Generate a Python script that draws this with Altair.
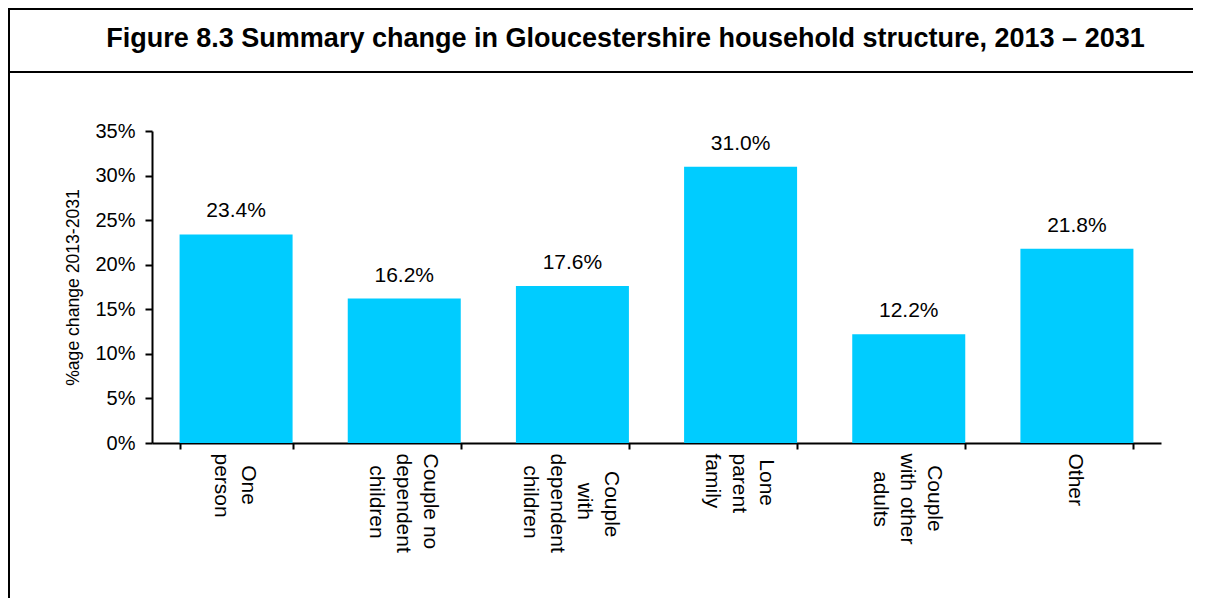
import altair as alt
import pandas as pd

# ---- data ----
categories = [
    "One\nperson",
    "Couple no\ndependent\nchildren",
    "Couple\nwith\ndependent\nchildren",
    "Lone\nparent\nfamily",
    "Couple\nwith other\nadults",
    "Other",
]
values = [0.234, 0.162, 0.176, 0.310, 0.122, 0.218]
y_ticks = [0, 0.05, 0.10, 0.15, 0.20, 0.25, 0.30, 0.35]
title_text = "Figure 8.3 Summary change in Gloucestershire household structure, 2013 \u2013 2031"
y_title = "%age change 2013-2031"

# Arial advance widths (1/1000 em) used to centre the lines of each rotated label
W = {" ": 278, "C": 722, "O": 778, "L": 556, "a": 556, "c": 500, "d": 556, "e": 556,
     "f": 278, "h": 556, "i": 222, "l": 222, "m": 833, "n": 556, "o": 556, "p": 556,
     "r": 333, "s": 500, "t": 278, "u": 556, "w": 722, "y": 500}


def centred(label):
    lines = label.split("\n")
    widths = [sum(W.get(ch, 556) for ch in ln) for ln in lines]
    m = max(widths)
    out = []
    for ln, w in zip(lines, widths):
        k = int(round((m - w) / 2 / 278))
        out.append(("\u200b" + "\u00a0" * k + ln) if k else ln)
    return "|".join(out)


df = pd.DataFrame({"cat": [centred(c) for c in categories], "val": values})
order = list(df["cat"])

FONT = "Liberation Sans"
CYAN = "#00CCFF"
LINE_H = 27

base = alt.Chart(df)

bars = base.mark_bar(color=CYAN).encode(
    x=alt.X(
        "cat:N",
        sort=order,
        title=None,
        scale=alt.Scale(paddingInner=0.328, paddingOuter=0.164),
        axis=alt.Axis(
            labelExpr="split(datum.label, '|')",
            labelAngle=90,
            labelAlign="left",
            labelBaseline="middle",
            labelFontSize=21,
            labelLineHeight=LINE_H,
            labelFont=FONT,
            labelColor="black",
            labelPadding=4,
            labelOffset=alt.ExprRef(
                f"{LINE_H / 2} * (length(split(datum.value, '|')) - 1) - 2"
            ),
            labelOverlap=False,
            labelLimit=400,
            tickBand="extent",
            tickSize=6,
            tickWidth=2,
            tickColor="black",
            domainWidth=2,
            domainColor="black",
        ),
    ),
    y=alt.Y(
        "val:Q",
        scale=alt.Scale(domain=[0, 0.35], nice=False, zero=True),
        axis=alt.Axis(
            values=y_ticks,
            format=".0%",
            grid=False,
            tickSize=7,
            tickWidth=2,
            tickColor="black",
            domainWidth=2,
            domainColor="black",
            labelFontSize=20,
            labelFont=FONT,
            labelColor="black",
            labelPadding=10,
            title=y_title,
            titleFont=FONT,
            titleFontSize=17.6,
            titleFontWeight="normal",
            titleColor="black",
            titleAngle=270,
            titleAlign="center",
            titleBaseline="middle",
            titleX=-79,
            titleY=156,
        ),
    ),
)

labels = base.mark_text(
    font=FONT, fontSize=21, color="black", baseline="alphabetic", dy=-17
).encode(
    x=alt.X("cat:N", sort=order),
    y="val:Q",
    text=alt.Text("val:Q", format=".1%"),
)

one = pd.DataFrame({"t": [title_text]})
title = alt.Chart(one).mark_text(
    font=FONT, fontSize=27, fontWeight="bold", color="black", align="center", baseline="alphabetic"
).encode(x=alt.value(473.5), y=alt.value(-84), text="t:N")

frame_style = dict(color="black", strokeWidth=2)
top_line = alt.Chart(one).mark_rule(**frame_style).encode(
    x=alt.value(-144), x2=alt.value(1060), y=alt.value(-122)
)
sep_line = alt.Chart(one).mark_rule(**frame_style).encode(
    x=alt.value(-144), x2=alt.value(1060), y=alt.value(-59)
)
left_line = alt.Chart(one).mark_rule(**frame_style).encode(
    x=alt.value(-143), y=alt.value(-124), y2=alt.value(500)
)

chart = (
    alt.layer(bars, labels, title, top_line, sep_line, left_line)
    .properties(
        width=1009,
        height=312,
        autosize=alt.AutoSizeParams(type="none"),
        padding={"left": 144, "top": 123, "right": 32, "bottom": 155},
        background="white",
    )
    .configure_view(strokeWidth=0)
)

chart.save("out.html", embed_options={"renderer": "svg", "actions": False})
